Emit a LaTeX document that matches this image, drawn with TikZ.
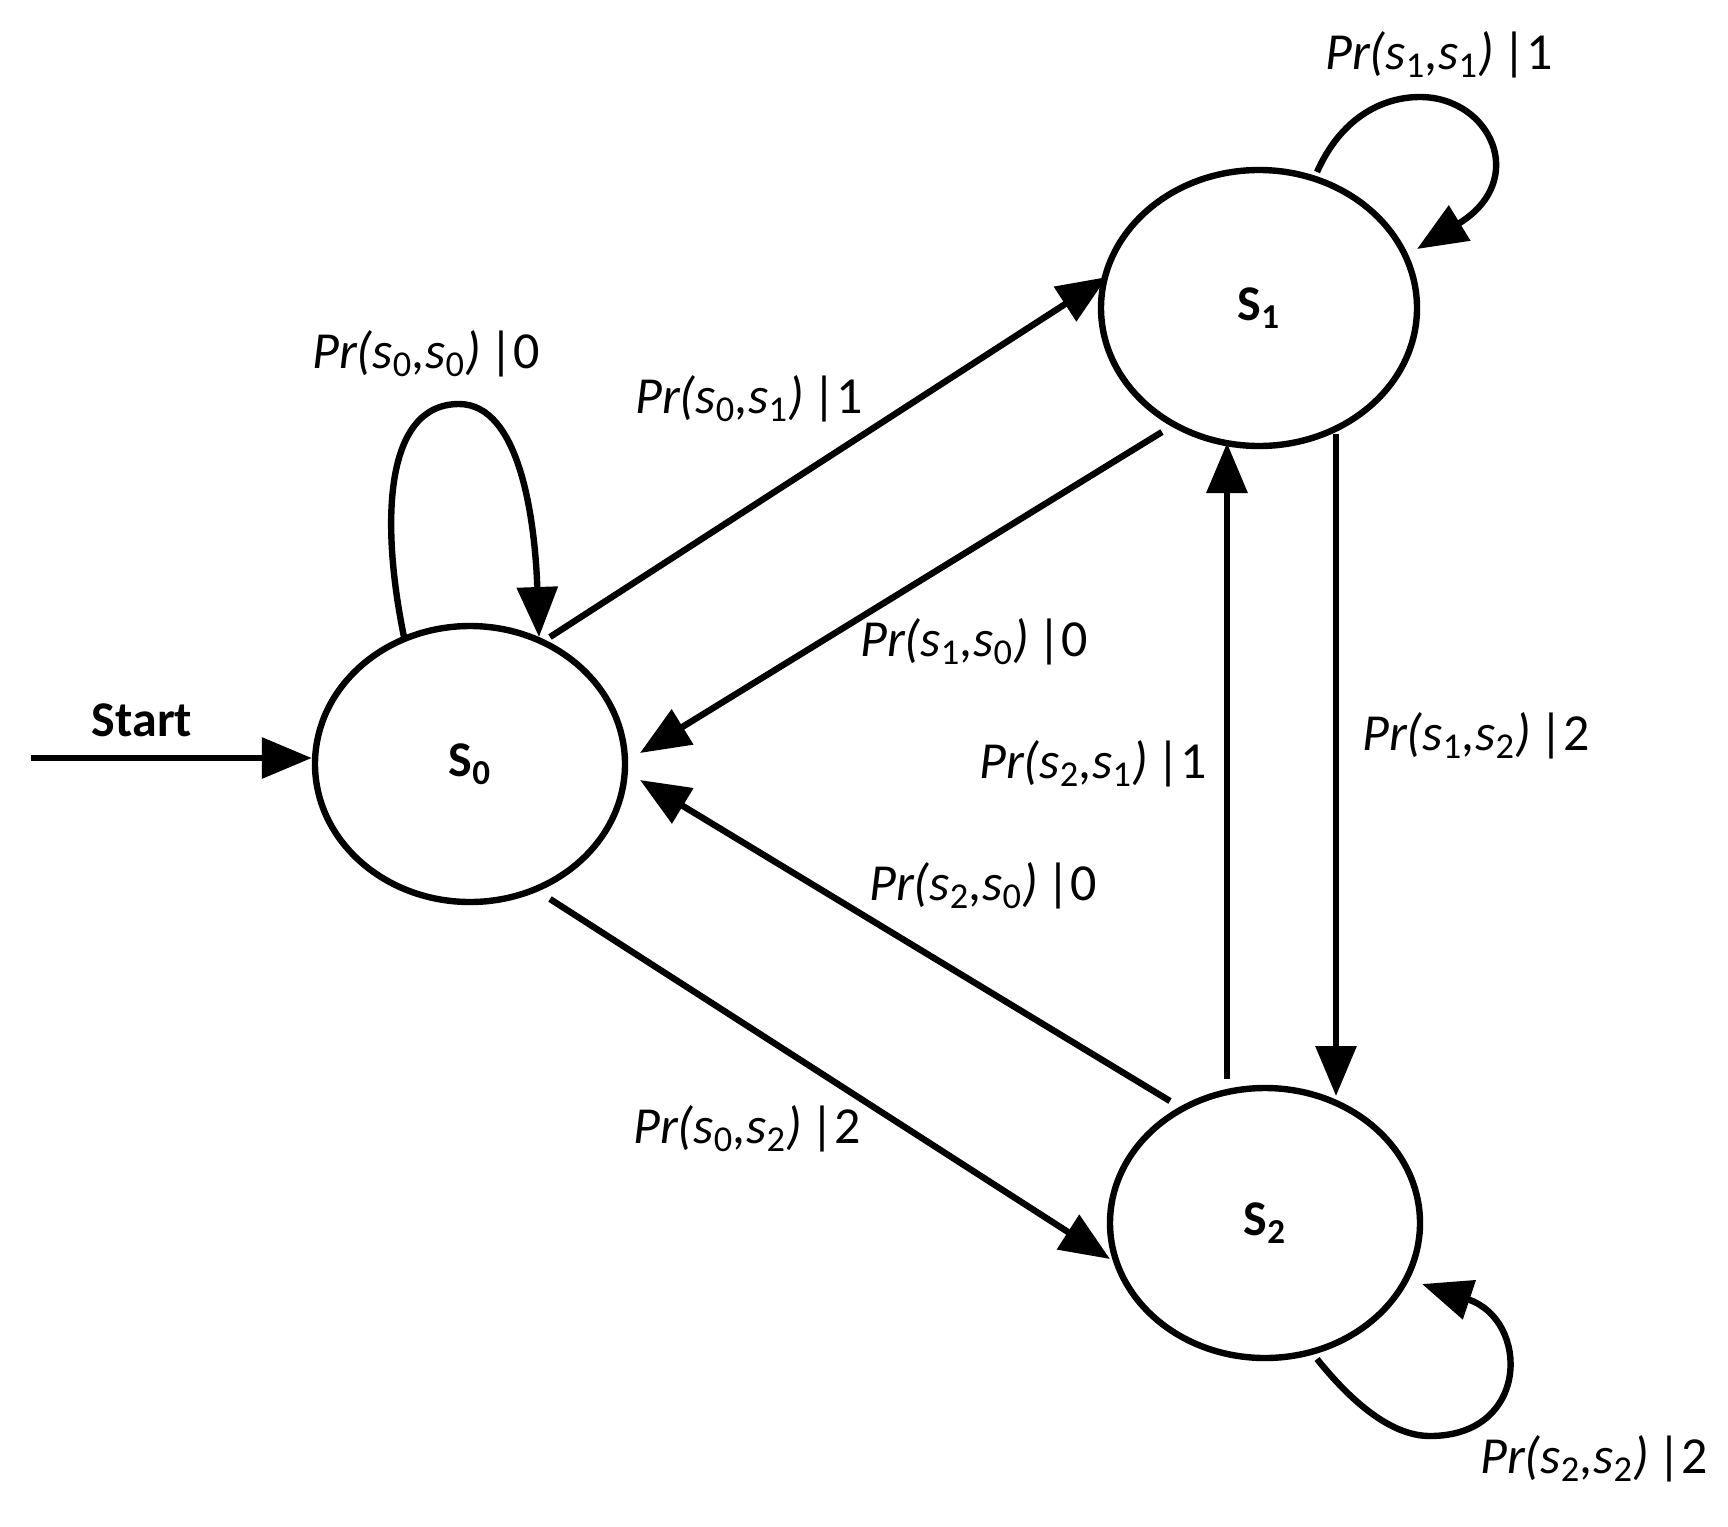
\documentclass[tikz,border=0pt]{standalone}
\usepackage{fontspec}
\setmainfont{Carlito}
\usetikzlibrary{arrows.meta,shapes.geometric}
\newcommand{\prlab}[3]{\textit{Pr(s\textsubscript{\upshape #1},s\textsubscript{\upshape #2})}\,|#3}
\begin{document}
\begin{tikzpicture}[x=0.5pt,y=-0.5pt,
  st/.style={ellipse,draw,line width=3.2pt,inner sep=0pt,font=\fontsize{25}{29}\selectfont\bfseries},
  ed/.style={line width=3.2pt,-{Triangle[length=25pt,width=20pt]}},
  lb/.style={font=\fontsize{26}{30}\selectfont}]
\useasboundingbox (0,0) rectangle (1728,1526);
\node[st,minimum width=155pt,minimum height=138pt] (s0) at (470,764) {S\textsubscript{0}};
\node[st,minimum width=158pt,minimum height=138pt] (s1) at (1259,308) {S\textsubscript{1}};
\node[st,minimum width=155pt,minimum height=135pt] (s2) at (1265,1223) {S\textsubscript{2}};
\coordinate (st) at (31,758);
\draw[ed] (st) -- (s0.west |- st);
\node[lb,font=\fontsize{25}{29}\selectfont\bfseries] (start) at (142,720) {Start};
\coordinate (a1) at (550,637); \coordinate (a2) at (1107,277);
\draw[ed] (a1) -- (a2);
\coordinate (b1) at (1162,432); \coordinate (b2) at (640,753);
\draw[ed] (b1) -- (b2);
\coordinate (c1) at (1170,1101); \coordinate (c2) at (640,780);
\draw[ed] (c1) -- (c2);
\coordinate (d1) at (550,899); \coordinate (d2) at (1110,1259);
\draw[ed] (d1) -- (d2);
\coordinate (e1) at (1227,1079); \coordinate (e2) at (1227,443);
\draw[ed] (e1) -- (e2);
\coordinate (f1) at (1336,434); \coordinate (f2) at (1336,1096);
\draw[ed] (f1) -- (f2);
\coordinate (l0a) at (404,637); \coordinate (l0b) at (539,637);
\draw[ed] (l0a) .. controls (380,520) and (385,404) .. (459,404) .. controls (520,404) and (535,520) .. (l0b);
\coordinate (l1a) at (1317,172); \coordinate (l1b) at (1417,249);
\draw[ed] (l1a) .. controls (1340,120) and (1380,97) .. (1420,97) .. controls (1490,97) and (1530,180) .. (l1b);
\coordinate (l2a) at (1317,1359); \coordinate (l2b) at (1422,1284);
\draw[ed] (l2a) .. controls (1350,1400) and (1390,1436) .. (1430,1436) .. controls (1530,1436) and (1530,1320) .. (l2b);
\node[lb] (t00) at (426,354) {\prlab{0}{0}{0}};
\node[lb] (t01) at (749,399) {\prlab{0}{1}{1}};
\node[lb] (t11) at (1439,55) {\prlab{1}{1}{1}};
\node[lb] (t10) at (974,642) {\prlab{1}{0}{0}};
\node[lb] (t12) at (1476,736) {\prlab{1}{2}{2}};
\node[lb] (t21) at (1093,764) {\prlab{2}{1}{1}};
\node[lb] (t20) at (983,886) {\prlab{2}{0}{0}};
\node[lb] (t02) at (747,1129) {\prlab{0}{2}{2}};
\node[lb] (t22) at (1594,1459) {\prlab{2}{2}{2}};
\end{tikzpicture}
\end{document}
